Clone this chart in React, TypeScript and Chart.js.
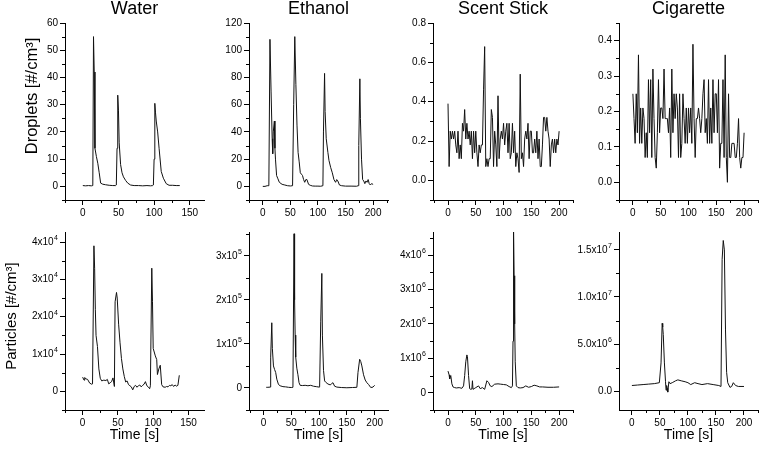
import React, { useEffect, useRef } from "react";
import { Chart, registerables } from "chart.js";

Chart.register(...registerables);

const FONT = '"Liberation Sans", Arial, Helvetica, sans-serif';

// ---------- Droplet concentration [#/cm³] ----------
const waterDropletTime = [0, 4, 8, 12, 14, 15, 16, 17, 19, 21, 23, 25, 28, 32, 37, 42, 46, 47, 48, 49, 50, 51, 53, 55, 57, 60, 63, 67, 72, 78, 84, 90, 95, 98, 99, 100, 101, 102, 103, 105, 107, 110, 113, 117, 121, 126, 131, 136];
const waterDropletValue = [0.3, 0.2, 0.3, 0.2, 0.3, 55, 42, 14, 11, 8.5, 5, 1.2, 0.8, 0.6, 0.4, 0.3, 0.3, 0.5, 14, 33.5, 28, 16, 8, 5, 3.5, 2.2, 1.2, 0.5, 0.3, 0.3, 0.2, 0.3, 0.2, 0.3, 0.5, 10, 30.5, 27, 24, 20, 14, 5.5, 3, 1, 0.4, 0.4, 0.3, 0.3];

const ethanolDropletTime = [0, 4, 8, 11, 13, 15, 17, 18, 19, 21, 22, 23, 25, 27, 30, 35, 40, 45, 50, 54, 56, 58, 60, 62, 64, 66, 68, 70, 72, 74, 76, 78, 80, 83, 86, 90, 95, 100, 105, 109, 110, 112, 113, 115, 118, 120, 123, 126, 129, 132, 134, 136, 139, 143, 150, 160, 170, 173, 174, 176, 177, 179, 181, 183, 185, 187, 189, 191, 193, 195, 197, 200];
const ethanolDropletValue = [0, 0, 0.5, 0.5, 108, 70, 35, 24, 40, 48, 28, 20, 8, 6, 3, 1.5, 1, 0.5, 0.3, 0.5, 60, 110, 75, 45, 25, 18, 10, 9, 8, 5, 3, 5, 5, 1.5, 0.8, 0.3, 0.2, 0.2, 0.1, 0.5, 40, 83, 55, 35, 25, 19, 14, 10, 5, 3, 5, 4, 1, 0.5, 0.2, 0.2, 0.1, 0.5, 30, 79, 50, 20, 5, 4, 2, 4, 3, 5, 2, 1, 2, 1.5];

// 2-second sampling used by the low-count sources
const sampleTime2s = [
  0, 2, 4, 6, 8, 10, 12, 14, 16, 18,
  20, 22, 24, 26, 28, 30, 32, 34, 36, 38,
  40, 42, 44, 46, 48, 50, 52, 54, 56, 58,
  60, 62, 64, 66, 68, 70, 72, 74, 76, 78,
  80, 82, 84, 86, 88, 90, 92, 94, 96, 98,
  100, 102, 104, 106, 108, 110, 112, 114, 116, 118,
  120, 122, 124, 126, 128, 130, 132, 134, 136, 138,
  140, 142, 144, 146, 148, 150, 152, 154, 156, 158,
  160, 162, 164, 166, 168, 170, 172, 174, 176, 178,
  180, 182, 184, 186, 188, 190, 192, 194, 196, 198,
  200,
];
const scentDropletValue = [
  0.39, 0.07, 0.25, 0.21, 0.25, 0.21, 0.25, 0.18, 0.14, 0.25,
  0.11, 0.18, 0.11, 0.29, 0.25, 0.36, 0.21, 0.29, 0.21, 0.25,
  0.18, 0.25, 0.11, 0.25, 0.14, 0.25, 0.14, 0.07, 0.18, 0.14,
  0.18, 0.18, 0.46, 0.68, 0.07, 0.11, 0.07, 0.11, 0.11, 0.36,
  0.32, 0.07, 0.25, 0.18, 0.07, 0.43, 0.11, 0.21, 0.25, 0.21,
  0.29, 0.18, 0.25, 0.29, 0.14, 0.29, 0.11, 0.14, 0.29, 0.14,
  0.25, 0.07, 0.14, 0.11, 0.04, 0.54, 0.11, 0.14, 0.07, 0.21,
  0.25, 0.21, 0.29, 0.11, 0.25, 0.25, 0.14, 0.14, 0.21, 0.14,
  0.25, 0.11, 0.21, 0.07, 0.07, 0.18, 0.32, 0.32, 0.25, 0.32,
  0.25, 0.21, 0.07, 0.18, 0.21, 0.14, 0.21, 0.14, 0.21, 0.18,
  0.25,
];
const cigaretteDropletValue = [
  0.25, 0.18, 0.11, 0.25, 0.14, 0.36, 0.11, 0.21, 0.11, 0.21,
  0.18, 0.07, 0.14, 0.07, 0.29, 0.14, 0.29, 0.07, 0.32, 0.18,
  0.07, 0.04, 0.14, 0.29, 0.14, 0.21, 0.21, 0.18, 0.32, 0.18,
  0.18, 0.18, 0.14, 0.21, 0.07, 0.32, 0.14, 0.25, 0.18, 0.25,
  0.21, 0.07, 0.25, 0.07, 0.11, 0.25, 0.18, 0.11, 0.21, 0.11,
  0.21, 0.14, 0.21, 0.11, 0.39, 0.18, 0.07, 0.18, 0.18, 0.21,
  0.18, 0.14, 0.18, 0.25, 0.29, 0.14, 0.18, 0.11, 0.29, 0.11,
  0.21, 0.11, 0.29, 0.14, 0.25, 0.25, 0.14, 0.29, 0.04, 0.11,
  0.11, 0.29, 0.07, 0.36, 0.07, 0.0, 0.25, 0.07, 0.07, 0.11,
  0.11, 0.11, 0.07, 0.07, 0.11, 0.18, 0.07, 0.04, 0.07, 0.07,
  0.14,
];

// ---------- Particle concentration [#/cm³] ----------
const waterParticleTime = [0, 2, 3, 5, 7, 10, 13, 14, 16, 17, 18, 19, 21, 23, 25, 27, 30, 33, 35, 37, 39, 41, 43, 45, 46, 48, 49, 51, 53, 55, 57, 59, 61, 63, 65, 67, 69, 71, 73, 75, 77, 79, 81, 83, 85, 87, 89, 91, 93, 95, 96, 98, 99, 100, 103, 105, 106, 108, 110, 112, 114, 117, 119, 121, 123, 125, 127, 129, 131, 133, 135, 137];
const waterParticleValue = [3800, 3000, 3700, 3300, 3200, 2200, 1900, 2000, 39000, 33000, 22000, 15000, 12000, 6000, 3500, 2800, 3000, 2900, 3200, 2000, 2300, 2600, 3600, 1300, 24000, 26500, 25000, 18000, 13000, 8800, 6000, 4000, 2500, 2800, 1800, 1500, 1200, 400, 1300, 1600, 1100, 1500, 1700, 1200, 1600, 1900, 2600, 1500, 1200, 700, 1500, 33000, 24000, 11500, 9500, 8500, 4500, 6000, 7000, 1800, 1200, 1100, 1300, 1200, 1600, 1500, 1800, 1300, 1700, 1400, 1600, 4300];

const ethanolParticleTime = [5, 8, 12, 13, 15, 16, 18, 20, 22, 24, 27, 30, 35, 40, 45, 50, 53, 55, 56, 57, 58, 60, 62, 64, 66, 70, 75, 80, 85, 90, 95, 100, 101, 103, 105, 106, 108, 110, 112, 116, 120, 122, 125, 128, 132, 140, 150, 160, 168, 170, 173, 175, 177, 180, 183, 186, 189, 193, 197, 200];
const ethanolParticleValue = [1500, 1500, 2000, 70000, 148000, 90000, 50000, 42000, 35000, 20000, 8000, 5000, 3000, 2500, 1500, 1000, 1500, 350000, 200000, 120000, 70000, 45000, 30000, 12000, 6000, 5500, 6000, 5000, 6000, 4000, 3000, 2000, 2500, 150000, 260000, 120000, 40000, 16000, 13000, 9000, 7000, 9000, 12000, 4000, 2000, 1000, 500, 1000, 1500, 35000, 65000, 60000, 50000, 30000, 18000, 12000, 8000, 1000, 2000, 6000];

const scentParticleTime = [0, 2, 3, 5, 7, 9, 12, 15, 20, 25, 28, 30, 32, 34, 35, 37, 39, 41, 43, 44, 45, 47, 50, 55, 58, 62, 66, 70, 73, 76, 79, 84, 90, 95, 100, 105, 110, 114, 116, 117, 118, 119, 120, 121, 123, 126, 130, 135, 140, 145, 150, 155, 160, 165, 170, 180, 190, 200];
const scentParticleValue = [630000, 520000, 400000, 500000, 260000, 170000, 150000, 140000, 150000, 130000, 200000, 500000, 900000, 1100000, 1050000, 500000, 120000, 100000, 110000, 350000, 100000, 120000, 150000, 200000, 120000, 150000, 100000, 350000, 300000, 200000, 180000, 250000, 260000, 250000, 240000, 230000, 180000, 150000, 200000, 1500000, 4700000, 3400000, 2000000, 900000, 200000, 150000, 140000, 150000, 200000, 160000, 180000, 220000, 200000, 170000, 170000, 160000, 160000, 170000];

const cigaretteParticleTime = [0, 10, 20, 30, 40, 49, 52, 54, 55, 56, 58, 60, 61, 62, 63, 64, 66, 68, 72, 78, 82, 88, 95, 100, 105, 112, 118, 125, 135, 145, 155, 159, 161, 163, 165, 167, 169, 171, 175, 178, 181, 185, 190, 200];
const cigaretteParticleValue = [600000, 650000, 700000, 750000, 800000, 900000, 3000000, 7200000, 6800000, 6000000, 3000000, 1000000, 100000, 600000, 300000, -100000, 1000000, 800000, 900000, 1100000, 1200000, 1100000, 1000000, 900000, 700000, 900000, 800000, 700000, 800000, 700000, 600000, 500000, 14000000, 16000000, 15000000, 6500000, 2000000, 900000, 400000, 500000, 900000, 600000, 500000, 500000];

// ---------- Tick values and labels ----------
const timeTicksShort = [0, 50, 100, 150];
const timeTicksLong = [0, 50, 100, 150, 200];

const waterDropletTicks = [0, 10, 20, 30, 40, 50, 60];
const waterDropletLabels = ["0", "10", "20", "30", "40", "50", "60"];
const ethanolDropletTicks = [0, 20, 40, 60, 80, 100, 120];
const ethanolDropletLabels = ["0", "20", "40", "60", "80", "100", "120"];
const scentDropletTicks = [0, 0.2, 0.4, 0.6, 0.8];
const scentDropletLabels = ["0.0", "0.2", "0.4", "0.6", "0.8"];
const cigaretteDropletTicks = [0, 0.1, 0.2, 0.3, 0.4];
const cigaretteDropletLabels = ["0.0", "0.1", "0.2", "0.3", "0.4"];

const waterParticleTicks = [0, 10000, 20000, 30000, 40000];
const waterParticleLabels = ["0", "1x10⁴", "2x10⁴", "3x10⁴", "4x10⁴"];
const ethanolParticleTicks = [0, 100000, 200000, 300000];
const ethanolParticleLabels = ["0", "1x10⁵", "2x10⁵", "3x10⁵"];
const scentParticleTicks = [0, 1000000, 2000000, 3000000, 4000000];
const scentParticleLabels = ["0", "1x10⁶", "2x10⁶", "3x10⁶", "4x10⁶"];
const cigaretteParticleTicks = [0, 5000000, 10000000, 15000000];
const cigaretteParticleLabels = ["0.0", "5.0x10⁶", "1.0x10⁷", "1.5x10⁷"];

const sourceTitles = ["Water", "Ethanol", "Scent Stick", "Cigarette"];
const dropletAxisTitle = "Droplets [#/cm³]";
const particleAxisTitle = "Particles [#/cm³]";
const timeAxisTitle = "Time [s]";

// ---------- Layout of the 2 x 4 grid ----------
const AREA_COLS: [number, number][] = [[65, 204], [249, 388], [433, 573], [619, 758]];
const CANVAS_X = [0, 205, 389, 574];
const ROWS = [
  { canvasTop: 0, height: 225, padTop: 0, areaBottom: 200 },
  { canvasTop: 224, height: 225, padTop: 8, areaBottom: 410 },
];

const TICK_LEN = 5;
const TICK_PAD = 2;
const TICK_FONT = 10;

type Panel = {
  row: number;
  col: number;
  time: number[];
  value: number[];
  xRange: [number, number];
  xTicks: number[];
  xMinor: number;
  yRange: [number, number];
  yTicks: number[];
  yLabels: string[];
  yMinor: number;
  title?: string;
  sideTitle?: { text: string; x: number; y: number; size: number };
};

const panels: Panel[] = [
  { row: 0, col: 0, time: waterDropletTime, value: waterDropletValue, xRange: [-25, 170], xTicks: timeTicksShort, xMinor: 25, yRange: [-5, 60], yTicks: waterDropletTicks, yLabels: waterDropletLabels, yMinor: 5, title: sourceTitles[0], sideTitle: { text: dropletAxisTitle, x: 32, y: 96, size: 16.5 } },
  { row: 0, col: 1, time: ethanolDropletTime, value: ethanolDropletValue, xRange: [-25, 227], xTicks: timeTicksLong, xMinor: 25, yRange: [-10, 120], yTicks: ethanolDropletTicks, yLabels: ethanolDropletLabels, yMinor: 10, title: sourceTitles[1] },
  { row: 0, col: 2, time: sampleTime2s, value: scentDropletValue, xRange: [-27, 225], xTicks: timeTicksLong, xMinor: 25, yRange: [-0.1, 0.8], yTicks: scentDropletTicks, yLabels: scentDropletLabels, yMinor: 0.1, title: sourceTitles[2] },
  { row: 0, col: 3, time: sampleTime2s, value: cigaretteDropletValue, xRange: [-25, 225], xTicks: timeTicksLong, xMinor: 25, yRange: [-0.05, 0.45], yTicks: cigaretteDropletTicks, yLabels: cigaretteDropletLabels, yMinor: 0.05, title: sourceTitles[3] },
  { row: 1, col: 0, time: waterParticleTime, value: waterParticleValue, xRange: [-25, 172], xTicks: timeTicksShort, xMinor: 25, yRange: [-5000, 42700], yTicks: waterParticleTicks, yLabels: waterParticleLabels, yMinor: 5000, sideTitle: { text: particleAxisTitle, x: 12, y: 92, size: 15 } },
  { row: 1, col: 1, time: ethanolParticleTime, value: ethanolParticleValue, xRange: [-26, 224], xTicks: timeTicksLong, xMinor: 25, yRange: [-50000, 354000], yTicks: ethanolParticleTicks, yLabels: ethanolParticleLabels, yMinor: 50000 },
  { row: 1, col: 2, time: scentParticleTime, value: scentParticleValue, xRange: [-27, 225], xTicks: timeTicksLong, xMinor: 25, yRange: [-500000, 4670000], yTicks: scentParticleTicks, yLabels: scentParticleLabels, yMinor: 500000 },
  { row: 1, col: 3, time: cigaretteParticleTime, value: cigaretteParticleValue, xRange: [-23, 225], xTicks: timeTicksLong, xMinor: 25, yRange: [-2000000, 16900000], yTicks: cigaretteParticleTicks, yLabels: cigaretteParticleLabels, yMinor: 2500000 },
];

const SUPERSCRIPTS = "⁰¹²³⁴⁵⁶⁷⁸⁹";
const hasExponent = (labels: string[]) => labels.some((s) => [...s].some((ch) => SUPERSCRIPTS.includes(ch)));

// Split "4x10⁴" into its mantissa part and its exponent digits
function splitExponent(label: string): [string, string] {
  const chars = [...label];
  let i = chars.length;
  while (i > 0 && SUPERSCRIPTS.includes(chars[i - 1])) i--;
  const base = chars.slice(0, i).join("");
  const exp = chars
    .slice(i)
    .map((ch) => String(SUPERSCRIPTS.indexOf(ch)))
    .join("");
  return [base, exp];
}

// Short minor tick marks between the labelled ones, drawn outside the axes
const minorTicksPlugin = {
  id: "minorTicks",
  afterDraw(chart: any, _args: any, opts: any) {
    const { ctx, chartArea } = chart;
    const drawAxis = (scale: any, step: number, majors: number[], horizontal: boolean) => {
      const first = Math.ceil(scale.min / step - 1e-6);
      const last = Math.floor(scale.max / step + 1e-6);
      for (let n = first; n <= last; n++) {
        const v = n * step;
        if (majors.some((m) => Math.abs(m - v) < step * 1e-3)) continue;
        const p = Math.round(scale.getPixelForValue(v)) + 0.5;
        if (horizontal) {
          ctx.moveTo(p, chartArea.bottom);
          ctx.lineTo(p, chartArea.bottom + 3);
        } else {
          ctx.moveTo(chartArea.left, p);
          ctx.lineTo(chartArea.left - 3, p);
        }
      }
    };
    ctx.save();
    ctx.beginPath();
    ctx.strokeStyle = "#000";
    ctx.lineWidth = 1;
    drawAxis(chart.scales.x, opts.xStep, opts.xMajors, true);
    drawAxis(chart.scales.y, opts.yStep, opts.yMajors, false);
    ctx.stroke();
    ctx.restore();
  },
};

// Power-of-ten tick labels with a raised exponent
const exponentLabelsPlugin = {
  id: "exponentLabels",
  afterDraw(chart: any, _args: any, opts: any) {
    if (!opts || !opts.labels) return;
    const { ctx, chartArea } = chart;
    const scale = chart.scales.y;
    const right = chartArea.left - TICK_LEN - TICK_PAD;
    ctx.save();
    ctx.fillStyle = "#000";
    ctx.textBaseline = "middle";
    opts.values.forEach((v: number, i: number) => {
      const [base, exp] = splitExponent(opts.labels[i]);
      const y = scale.getPixelForValue(v);
      let x = right;
      if (exp) {
        ctx.font = `7px ${FONT}`;
        ctx.textAlign = "right";
        ctx.fillText(exp, x, y - 4);
        x -= ctx.measureText(exp).width + 0.5;
      }
      ctx.font = `${TICK_FONT}px ${FONT}`;
      ctx.textAlign = "right";
      ctx.fillText(base, x, y);
    });
    ctx.restore();
  },
};

// Rotated quantity label to the left of the first column
const sideTitlePlugin = {
  id: "sideTitle",
  afterDraw(chart: any, _args: any, opts: any) {
    if (!opts || !opts.text) return;
    const { ctx } = chart;
    ctx.save();
    ctx.translate(opts.x, opts.y);
    ctx.rotate(-Math.PI / 2);
    ctx.fillStyle = "#000";
    ctx.font = `${opts.size}px ${FONT}`;
    ctx.textAlign = "center";
    ctx.textBaseline = "middle";
    ctx.fillText(opts.text, 0, 0);
    ctx.restore();
  },
};

function geometry(p: Panel) {
  const row = ROWS[p.row];
  const [areaLeft, areaRight] = AREA_COLS[p.col];
  const x0 = CANVAS_X[p.col];
  const width = areaRight + 1 - x0;
  return {
    x0,
    y0: row.canvasTop,
    width,
    height: row.height,
    yAxisW: areaLeft - x0,
    xAxisH: row.canvasTop + row.height - row.areaBottom,
    padTop: row.padTop,
  };
}

function PanelChart({ p }: { p: Panel }) {
  const ref = useRef<HTMLCanvasElement>(null);
  const g = geometry(p);

  useEffect(() => {
    if (!ref.current) return;
    const customY = hasExponent(p.yLabels);
    const axisCommon = {
      type: "linear" as const,
      grid: { drawOnChartArea: false, drawTicks: true, tickLength: TICK_LEN, color: "#000", lineWidth: 1 },
      border: { display: true, color: "#000", width: 1 },
    };
    const chart = new Chart(ref.current, {
      type: "line",
      data: {
        datasets: [
          {
            data: p.time.map((t, i) => ({ x: t, y: p.value[i] })),
            borderColor: "#111",
            borderWidth: 1,
            pointRadius: 0,
            tension: 0,
            fill: false,
          },
        ],
      },
      options: {
        responsive: false,
        maintainAspectRatio: false,
        animation: false,
        events: [],
        layout: { padding: { top: g.padTop, right: 1, bottom: 0, left: 0 } },
        plugins: {
          legend: { display: false },
          tooltip: { enabled: false },
          title: p.title
            ? {
                display: true,
                text: p.title,
                fullSize: false,
                color: "#000",
                font: { family: FONT, size: 18, weight: "normal", lineHeight: 1 },
                padding: { top: 0.5, bottom: 4.5 },
              }
            : { display: false },
          minorTicks: { xStep: p.xMinor, xMajors: p.xTicks, yStep: p.yMinor, yMajors: p.yTicks },
          exponentLabels: customY ? { values: p.yTicks, labels: p.yLabels } : {},
          sideTitle: p.sideTitle || {},
        } as any,
        scales: {
          x: {
            ...axisCommon,
            min: p.xRange[0],
            max: p.xRange[1],
            afterBuildTicks: (s: any) => {
              s.ticks = p.xTicks.map((v) => ({ value: v }));
            },
            afterFit: (s: any) => {
              s.height = g.xAxisH;
            },
            ticks: {
              autoSkip: false,
              maxRotation: 0,
              padding: TICK_PAD,
              color: "#000",
              font: { family: FONT, size: TICK_FONT },
              callback: (_v: any, i: number) => String(p.xTicks[i]),
            },
            title:
              p.row === 1
                ? {
                    display: true,
                    text: timeAxisTitle,
                    color: "#000",
                    font: { family: FONT, size: 14 },
                    padding: { top: 0, bottom: 5.6 },
                  }
                : { display: false },
          },
          y: {
            ...axisCommon,
            min: p.yRange[0],
            max: p.yRange[1],
            afterBuildTicks: (s: any) => {
              s.ticks = p.yTicks.map((v) => ({ value: v }));
            },
            afterFit: (s: any) => {
              s.width = g.yAxisW;
            },
            ticks: {
              display: !customY,
              autoSkip: false,
              padding: TICK_PAD,
              color: "#000",
              font: { family: FONT, size: TICK_FONT },
              callback: (_v: any, i: number) => p.yLabels[i],
            },
          },
        },
      } as any,
      plugins: [minorTicksPlugin, exponentLabelsPlugin, sideTitlePlugin],
    });
    return () => chart.destroy();
  }, [p]);

  return (
    <canvas
      ref={ref}
      width={g.width}
      height={g.height}
      style={{ position: "absolute", left: g.x0, top: g.y0, width: g.width, height: g.height }}
    />
  );
}

export default function App() {
  return (
    <div style={{ position: "fixed", left: 0, top: 0, width: 759, height: 449, background: "#fff", fontFamily: FONT }}>
      {panels.map((p) => (
        <PanelChart key={`${p.row}-${p.col}`} p={p} />
      ))}
    </div>
  );
}
